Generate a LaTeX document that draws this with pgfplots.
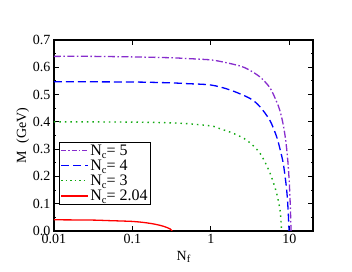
\documentclass[border=0pt]{standalone}
\usepackage{pgfplots}
\pgfplotsset{compat=1.18}
\usepackage{fontspec}
\setmainfont{Liberation Serif}
\definecolor{cviolet}{RGB}{135,45,205}
\definecolor{cblue}{RGB}{0,0,255}
\definecolor{cgreen}{RGB}{20,170,20}
\definecolor{cred}{RGB}{255,0,0}
\newcommand{\Nsub}[1]{N\raisebox{-0.45ex}{\fontsize{10.5}{10.5}\selectfont #1}}
\newcommand{\legtxt}[1]{\fontsize{16}{16}\selectfont\Nsub{c}= #1}
\begin{document}
\begin{tikzpicture}
\begin{axis}[
  scale only axis,
  width=259pt, height=191pt,
  xmode=log, log basis x=10,
  xmin=0.01, xmax=20, ymin=0, ymax=0.7,
  xtick={0.01,0.1,1,10}, xticklabels={0.01,0.1,1,10},
  ytick={0,0.1,...,0.71},
  y tick label style={/pgf/number format/fixed, /pgf/number format/fixed zerofill, /pgf/number format/precision=1},
  /pgf/number format/assume math mode=true,
  minor y tick num=1,
  tick align=inside,
  major tick length=5pt, minor tick length=2.5pt,
  every tick/.style={black, line width=0.9pt},
  axis line style={line width=1.4pt},
  tick label style={font=\fontsize{14}{14}\selectfont},
  label style={font=\fontsize{14}{14}\selectfont},
  xlabel={\Nsub{f}},
  ylabel={M~ (GeV)},
  ylabel style={yshift=-3pt},
  legend cell align=left,
  legend style={at={(0.019,0.136)}, anchor=south west,
    draw=black, line width=1.2pt, inner xsep=1pt, inner ysep=1pt,
    nodes={inner sep=1.5pt}, row sep=0pt},
  legend image code/.code={\draw[#1] (0pt,0pt) -- (27pt,0pt);},
]
\addlegendimage{draw=cviolet, line width=1.4pt, dash pattern=on 5pt off 2pt on 1.5pt off 2pt}
\addlegendentry{\legtxt{5}}
\addlegendimage{draw=cblue, line width=1.4pt, dash pattern=on 8pt off 4pt}
\addlegendentry{\legtxt{4}}
\addlegendimage{draw=cgreen, line width=1.4pt, dash pattern=on 1.5pt off 3pt}
\addlegendentry{\legtxt{3}}
\addlegendimage{draw=cred, line width=1.4pt}
\addlegendentry{\legtxt{2.04}}
\addplot[forget plot, cviolet, line width=1.3pt, dash pattern=on 7pt off 2.5pt on 1.5pt off 2.5pt, smooth] coordinates {
(0.01,0.640) (0.03,0.640) (0.1,0.638) (0.3,0.635) (0.5,0.632) (1,0.627) (1.5,0.618)
(2.34,0.605) (3,0.592) (4.2,0.565) (5.65,0.525) (6.87,0.474) (7.6,0.44) (8.34,0.39)
(9.0,0.33) (9.6,0.25) (10.0,0.17) (10.25,0.10) (10.4,0.045) (10.5,0.0)};
\addplot[forget plot, cblue, line width=1.3pt, dash pattern=on 8pt off 4pt, smooth] coordinates {
(0.01,0.547) (0.1,0.546) (0.3,0.543) (0.5,0.540) (1,0.535) (1.75,0.517) (3.14,0.486)
(4.2,0.456) (5.65,0.405) (6.87,0.346) (7.6,0.30) (8.34,0.249) (9.0,0.18) (9.4,0.125)
(9.7,0.06) (9.9,0.0)};
\addplot[forget plot, cgreen, line width=1.4pt, dash pattern=on 1.5pt off 4pt, smooth] coordinates {
(0.01,0.400) (0.1,0.399) (0.4,0.395) (1.0,0.385) (1.3,0.375) (1.92,0.358) (2.85,0.333)
(4.2,0.286) (5.65,0.213) (6.87,0.139) (7.6,0.077) (7.8,0.04) (7.95,0.0)};
\addplot[forget plot, cred, line width=1.3pt, smooth] coordinates {
(0.01,0.041) (0.03,0.040) (0.05,0.038) (0.1,0.035) (0.15,0.030) (0.2,0.024) (0.25,0.017)
(0.3,0.008) (0.32,0.0)};
\end{axis}
\path ([shift={(-54pt,-41pt)}]current axis.south west) rectangle ([shift={(39pt,40pt)}]current axis.north east);
\end{tikzpicture}
\end{document}
